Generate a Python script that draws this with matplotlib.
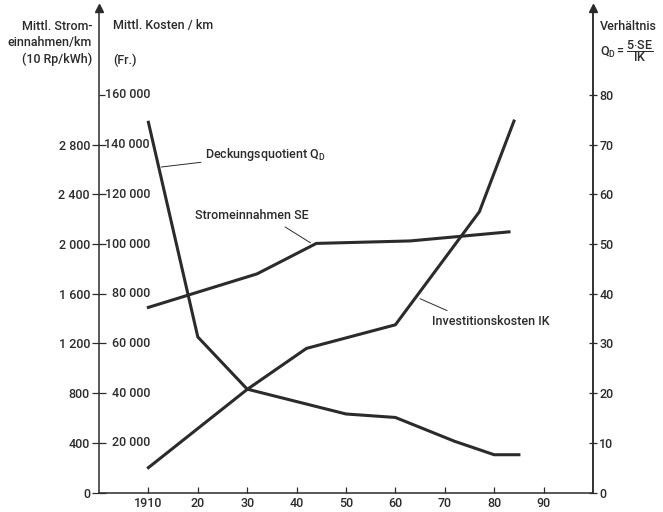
import matplotlib
matplotlib.use('Agg')
import matplotlib.pyplot as plt

plt.rcParams['font.family'] = ['Roboto', 'DejaVu Sans']
plt.rcParams['font.weight'] = 'medium'
plt.rcParams['font.size'] = 9
plt.rcParams['mathtext.fontset'] = 'custom'
plt.rcParams['mathtext.rm'] = 'Roboto:medium'
plt.rcParams['mathtext.it'] = 'Roboto:medium'

INK = "#2b2b2b"

# Investitionskosten IK (Fr./km)
ik_years = [1910, 1930, 1942, 1960, 1977, 1984]
ik_vals = [10000, 41500, 58000, 67500, 113000, 149500]

# Stromeinnahmen SE (10 Rp/kWh), left outer scale
se_years = [1910, 1932, 1944, 1963, 1983]
se_vals = [1490, 1760, 2005, 2025, 2098]

# Deckungsquotient QD, right scale
qd_years = [1910, 1920, 1930, 1950, 1960, 1972, 1980, 1985]
qd_vals = [74.5, 31.3, 20.8, 15.8, 15.1, 10.3, 7.6, 7.6]

x_ticks = [1910, 1920, 1930, 1940, 1950, 1960, 1970, 1980, 1990]
x_labels = ["1910", "20", "30", "40", "50", "60", "70", "80", "90"]
ik_ticks = [0, 20000, 40000, 60000, 80000, 100000, 120000, 140000]
se_labels = ["0", "400", "800", "1 200", "1 600", "2 000", "2 400", "2 800"]
ik_labels = ["20 000", "40 000", "60 000", "80 000", "100 000", "120 000",
             "140 000", "160 000"]
ik_label_pos = [20000, 40000, 60000, 80000, 100000, 120000, 140000, 160000]
qd_ticks = [0, 10, 20, 30, 40, 50, 60, 70, 80]

SE_TO_IK = 50      # 2800 <-> 140 000
QD_TO_IK = 2000    # 80 <-> 160 000
YTOP = 195000

fig = plt.figure(figsize=(6.63, 5.12), dpi=100)
ax = fig.add_axes([99 / 663, 19.5 / 512, 494 / 663, 484.5 / 512])
ax.set_xlim(1900, 2000)
ax.set_ylim(0, YTOP)

ax.spines["top"].set_visible(False)
for s in ["left", "right", "bottom"]:
    ax.spines[s].set_linewidth(1.1)
    ax.spines[s].set_color(INK)

# curves
lw = 2.2
ax.plot(ik_years, ik_vals, color=INK, lw=lw)
ax.plot(se_years, [v * SE_TO_IK for v in se_vals], color=INK, lw=lw)
ax.plot(qd_years, [v * QD_TO_IK for v in qd_vals], color=INK, lw=lw)

# x axis
ax.set_xticks(x_ticks)
ax.set_xticklabels(x_labels)
ax.tick_params(axis='x', direction='in', length=4.5, width=0.9, color=INK,
               pad=3.5, labelcolor=INK)

# left axis: outer SE labels, inner IK labels
ax.set_yticks(ik_ticks)
ax.set_yticklabels(se_labels)
ax.tick_params(axis='y', direction='inout', length=10, width=0.9, color=INK,
               pad=1.5, labelcolor=INK)
ax.set_yticks([160000], minor=True)
ax.tick_params(axis='y', which='minor', direction='in', length=4.5,
               width=0.9, color=INK)
tr = ax.get_yaxis_transform()
for v, lab in zip(ik_label_pos, ik_labels):
    ax.text(51 / 494, v, lab, transform=tr, ha='right', va='center',
            color=INK)

# right axis
ax2 = ax.twinx()
ax2.set_ylim(0, YTOP / QD_TO_IK)
for s in ["top", "left", "bottom"]:
    ax2.spines[s].set_visible(False)
ax2.spines["right"].set_linewidth(1.1)
ax2.spines["right"].set_color(INK)
ax2.set_yticks(qd_ticks)
ax2.tick_params(axis='y', direction='inout', length=6, width=0.9, color=INK,
                pad=1.5, labelcolor=INK)

# arrow heads on vertical axes
for xa in (0, 1):
    ax.plot([xa], [1.0], marker='^', markersize=6, color=INK,
            transform=ax.transAxes, clip_on=False)

# curve annotations
ax.annotate("Deckungsquotient Q$_\\mathrm{D}$", xy=(1912.6, 131000),
            xytext=(1921.5, 136000), va='center', ha='left', color=INK,
            arrowprops=dict(arrowstyle='-', lw=0.7, color=INK,
                            shrinkA=1, shrinkB=0))
ax.annotate("Stromeinnahmen SE", xy=(1942.8, 100500),
            xytext=(1919.5, 111500), va='center', ha='left', color=INK,
            arrowprops=dict(arrowstyle='-', lw=0.7, color=INK,
                            shrinkA=3, shrinkB=0,
                            relpos=(0.72, 0.0)))
ax.annotate("Investitionskosten IK", xy=(1965, 78000),
            xytext=(1967.5, 69000), va='center', ha='left', color=INK,
            arrowprops=dict(arrowstyle='-', lw=0.7, color=INK,
                            shrinkA=2, shrinkB=0,
                            relpos=(0.2, 1.0)))

# axis titles
fig.text(92 / 663, 1 - 43 / 512,
         "Mittl. Strom-\neinnahmen/km\n(10 Rp/kWh)", ha='right', va='center',
         color=INK, linespacing=1.3)
fig.text(113 / 663, 1 - 26 / 512, "Mittl. Kosten / km", ha='left',
         va='center', color=INK)
fig.text(113 / 663, 1 - 60 / 512, "(Fr.)", ha='left', va='center', color=INK)
fig.text(600 / 663, 1 - 26 / 512, "Verhältnis", ha='left', va='center',
         color=INK)
fig.text(600 / 663, 1 - 51 / 512,
         r"$\mathrm{Q_D} = \dfrac{\mathrm{5{\cdot}SE}}{\mathrm{IK}}$",
         ha='left', va='center', color=INK)

fig.savefig("out.png", dpi=100)
